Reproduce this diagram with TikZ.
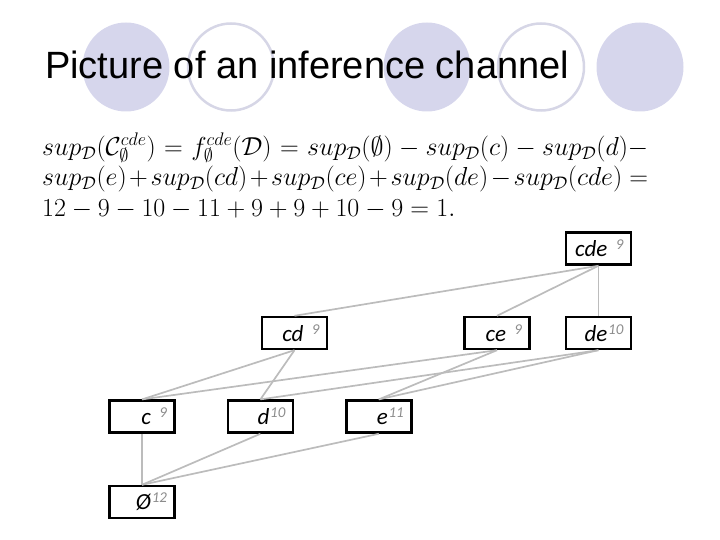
\RequirePackage{fix-cm}
\documentclass[tikz,border=0pt]{standalone}
\usepackage[no-math]{fontspec}
\setmainfont{Liberation Sans}
\newfontfamily\boxfont{Carlito}
\usepackage{tikz}
\usetikzlibrary{positioning}

\definecolor{lavender}{RGB}{214,214,236}
\definecolor{ringgray}{RGB}{214,214,230}
\definecolor{linkgray}{RGB}{188,188,188}
\definecolor{supgray}{RGB}{140,140,140}

\newcommand{\supD}{sup_{\mathcal{D}}}
\newcommand{\lattlbl}[2]{\makebox[40pt][r]{#1}\makebox[16pt][r]{\raisebox{7pt}{\color{supgray}\fontsize{15}{15}\selectfont #2}}\hspace*{6pt}}

\begin{document}
\begin{tikzpicture}[x=1pt, y=-1pt,
    disk/.style={fill=lavender, draw=none},
    ring/.style={draw=ringgray, line width=2.5pt},
    lattbox/.style={draw, line width=2.4pt, fill=white, minimum width=65pt, minimum height=32pt, inner sep=0pt,
        font=\boxfont\itshape\fontsize{23}{23}\selectfont},
    link/.style={draw=linkgray, line width=1.7pt}
]
    \useasboundingbox (0,0) rectangle (720,540);

    % background circles
    \fill[disk] (126,67) ellipse (43.5 and 44.5);
    \draw[ring] (231,67) ellipse (43 and 43.5);
    \fill[disk] (427,67) ellipse (43.5 and 44.5);
    \draw[ring] (541,67) ellipse (43 and 43.5);
    \fill[disk] (640,67) ellipse (43.5 and 44.5);

    \node[anchor=base west, inner sep=0pt, font=\fontsize{38}{38}\selectfont] (title) at (45,79) {Picture of an inference channel};

    \node[anchor=north west, inner sep=0pt, align=left, font=\fontsize{26}{30.5}\selectfont] (formula) at (42,133) {%
        \hbox to 606pt{$\supD(\mathcal{C}_\emptyset^{cde}) = f_\emptyset^{cde}(\mathcal{D}) = \supD(\emptyset) - \supD(c) - \supD(d) -$}\\
        \hbox to 606pt{$\supD(e) + \supD(cd) + \supD(ce) + \supD(de) - \supD(cde) =$}\\
        $12 - 9 - 10 - 11 + 9 + 9 + 10 - 9 = 1.$};

    % lattice
    \node[lattbox] (empty) at (142,502) {\lattlbl{Ø}{12}};
    \node[lattbox, above=51pt of empty] (c) {\lattlbl{c}{9}};
    \node[lattbox, right=51pt of c] (d) {\lattlbl{d}{10}};
    \node[lattbox, right=51pt of d] (e) {\lattlbl{e}{11}};
    \node[lattbox] (cd) at (294.5,333) {\lattlbl{cd}{9}};
    \node[lattbox] (ce) at (497,333) {\lattlbl{ce}{9}};
    \node[lattbox, right=34pt of ce] (de) {\lattlbl{de}{10}};
    \node[lattbox, above=50pt of de] (cde) {\lattlbl{cde}{9}};

    \draw[link] (cde.south) -- (cd.north);
    \draw[link] (cde.south) -- (ce.north);
    \draw[link] (cde.south) -- (de.north);
    \draw[link] (cd.south) -- (c.north);
    \draw[link] (cd.south) -- (d.north);
    \draw[link] (ce.south) -- (c.north);
    \draw[link] (ce.south) -- (e.north);
    \draw[link] (de.south) -- (d.north);
    \draw[link] (de.south) -- (e.north);
    \draw[link] (c.south) -- (empty.north);
    \draw[link] (d.south) -- (empty.north);
    \draw[link] (e.south) -- (empty.north);
\end{tikzpicture}
\end{document}
